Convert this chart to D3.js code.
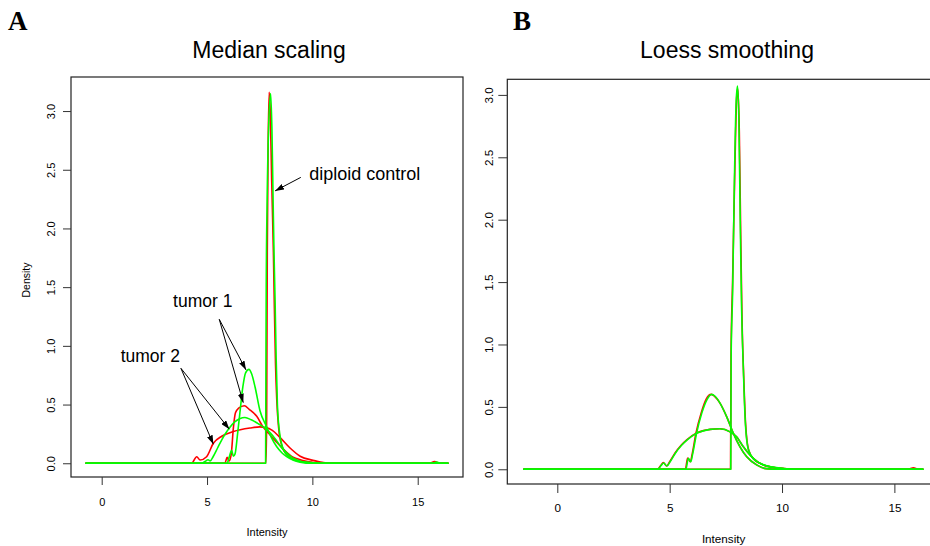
<!DOCTYPE html>
<html>
<head>
<meta charset="utf-8">
<script src="https://cdn.jsdelivr.net/npm/d3@7"></script>
<style>
  html, body { margin: 0; padding: 0; background: #fff; }
  svg { display: block; font-family: "Liberation Sans", Arial, sans-serif; }
</style>
</head>
<body>
<svg id="chart" width="930" height="546"></svg>
<script>
// ---- Density curves, [intensity, density] pairs ----

// A: median scaling
const medRedControl = [[-0.77,0],[7.8,0],[7.83,0.4],[7.86,1.8],[7.9,2.7],[7.95,3.16],[8.0,3.0],[8.07,2.4],[8.15,1.8],[8.19,1.39],[8.25,0.85],[8.31,0.54],[8.4,0.3],[8.55,0.15],[8.8,0.07],[9.2,0.025],[9.8,0.008],[10.6,0],[16.46,0]];
const medGreenControl = [[-0.77,0],[7.78,0],[7.795,0.8],[7.81,1.5],[7.85,2.2],[7.93,2.9],[8.02,3.15],[8.08,2.85],[8.14,2.2],[8.18,1.79],[8.23,1.39],[8.28,0.9],[8.34,0.5],[8.43,0.28],[8.6,0.13],[8.85,0.06],[9.3,0.02],[10.0,0.005],[10.8,0],[16.46,0]];
const medRedTumor1 = [[-0.77,0],[5.85,0],[5.95,0.05],[6.05,0.02],[6.15,0.08],[6.25,0.3],[6.35,0.43],[6.5,0.47],[6.77,0.49],[7.0,0.46],[7.36,0.4],[7.66,0.31],[8.0,0.24],[8.3,0.18],[8.62,0.12],[9.0,0.06],[9.25,0.04],[9.9,0.01],[10.5,0],[16.46,0]];
const medRedTumor2 = [[-0.77,0],[4.27,0],[4.51,0.056],[4.67,0.028],[4.98,0.056],[5.3,0.17],[5.7,0.23],[6.25,0.27],[7.04,0.3],[7.5,0.31],[7.8,0.305],[8.1,0.28],[8.46,0.22],[8.94,0.13],[9.42,0.06],[10.04,0.025],[10.83,0],[15.55,0],[15.8,0.014],[16.05,0],[16.46,0]];
const medGreenTumor1 = [[-0.77,0],[5.95,0],[6.05,0.05],[6.17,0.11],[6.25,0.06],[6.33,0.08],[6.45,0.25],[6.56,0.43],[6.7,0.65],[6.83,0.77],[6.99,0.8],[7.12,0.76],[7.28,0.65],[7.51,0.45],[7.83,0.31],[8.05,0.22],[8.31,0.14],[8.55,0.09],[8.78,0.056],[9.1,0.025],[9.41,0.01],[10.0,0],[16.46,0]];
const medGreenTumor2 = [[-0.77,0],[4.75,0],[4.9,0.015],[5.05,0.03],[5.15,0.02],[5.3,0.06],[5.5,0.13],[5.7,0.2],[5.9,0.26],[6.06,0.3],[6.3,0.35],[6.55,0.38],[6.8,0.39],[7.1,0.37],[7.4,0.34],[7.67,0.31],[8.0,0.26],[8.31,0.19],[8.55,0.13],[8.78,0.09],[9.0,0.055],[9.25,0.03],[9.6,0.01],[10.2,0],[15.7,0],[15.9,0.01],[16.1,0],[16.46,0]];

// B: loess smoothing
const loessRedControl = [[-1.51,0],[7.71,0],[7.73,0.9],[7.8,1.5],[7.9,2.4],[7.98,2.97],[8.03,3.05],[8.1,2.7],[8.16,1.9],[8.22,1.2],[8.3,0.72],[8.38,0.36],[8.52,0.15],[8.78,0.075],[9.05,0.045],[9.45,0.02],[10.0,0.008],[10.7,0],[16.29,0]];
const loessGreenControl = [[-1.51,0],[7.72,0],[7.735,0.9],[7.8,1.4],[7.88,2.3],[7.96,2.95],[8.02,3.07],[8.08,2.8],[8.14,2.0],[8.2,1.3],[8.28,0.8],[8.36,0.4],[8.5,0.16],[8.75,0.08],[9.0,0.05],[9.4,0.025],[9.9,0.01],[10.6,0],[16.29,0]];
const loessRedTumor1 = [[-1.51,0],[5.7,0],[5.8,0.09],[5.92,0.06],[6.0,0.12],[6.17,0.29],[6.4,0.45],[6.62,0.56],[6.85,0.6],[7.0,0.585],[7.24,0.53],[7.54,0.42],[7.83,0.29],[8.13,0.18],[8.43,0.1],[8.87,0.035],[9.3,0.005],[9.8,0],[16.29,0]];
const loessGreenTumor1 = [[-1.51,0],[5.72,0],[5.83,0.088],[5.94,0.06],[6.02,0.12],[6.2,0.29],[6.43,0.45],[6.65,0.555],[6.87,0.6],[7.02,0.585],[7.24,0.53],[7.54,0.42],[7.83,0.29],[8.13,0.18],[8.43,0.1],[8.87,0.035],[9.3,0.005],[9.8,0],[16.29,0]];
const loessRedTumor2 = [[-1.51,0],[4.45,0],[4.6,0.03],[4.72,0.053],[4.87,0.026],[5.0,0.06],[5.24,0.13],[5.5,0.19],[5.76,0.235],[6.2,0.29],[6.8,0.32],[7.24,0.325],[7.69,0.3],[7.98,0.26],[8.28,0.18],[8.72,0.088],[9.17,0.034],[9.9,0.008],[10.5,0],[15.6,0],[15.85,0.012],[16.05,0],[16.29,0]];
const loessGreenTumor2 = [[-1.51,0],[4.47,0],[4.62,0.03],[4.73,0.05],[4.88,0.026],[5.02,0.06],[5.26,0.13],[5.52,0.19],[5.78,0.235],[6.22,0.29],[6.8,0.32],[7.24,0.325],[7.69,0.3],[7.98,0.26],[8.28,0.18],[8.72,0.088],[9.17,0.034],[9.9,0.008],[10.5,0],[16.29,0]];

// ---- Axis ticks ----
const xTicks = [0, 5, 10, 15];
const yTicks = [0, 0.5, 1.0, 1.5, 2.0, 2.5, 3.0];
const xLabel = "Intensity";
const yLabel = "Density";

// ---- Annotations on panel A: text anchor, arrow tail and arrow tips (data units) ----
const annoControl = { text: "diploid control", x: 9.85, y: 2.41, from: [9.45, 2.435], tips: [[8.23, 2.32]] };
const annoTumor1  = { text: "tumor 1", x: 3.39, y: 1.334, from: [5.58, 1.226], tips: [[6.85, 0.795], [6.72, 0.516]] };
const annoTumor2  = { text: "tumor 2", x: 0.90, y: 0.865, from: [3.76, 0.809], tips: [[5.30, 0.162], [6.06, 0.29]] };

const RED = "#ff0000", GREEN = "#00ff00";

const svg = d3.select("#chart");
svg.append("rect").attr("width", 930).attr("height", 546).attr("fill", "#fff");

const defs = svg.append("defs");
defs.append("marker")
  .attr("id", "arrowhead")
  .attr("viewBox", "0 0 10 10")
  .attr("refX", 10).attr("refY", 5)
  .attr("markerUnits", "userSpaceOnUse")
  .attr("markerWidth", 9).attr("markerHeight", 6)
  .attr("preserveAspectRatio", "none")
  .attr("orient", "auto")
  .append("path").attr("d", "M0,0 L10,5 L0,10 Z").attr("fill", "#000");

const panels = [
  {
    id: "A", letterX: 8, title: "Median scaling",
    box: { l: 71, r: 463, t: 77, b: 477 },
    xlim: [-1.457, 17.15], ylim: [-0.117, 3.29],
    font: 11, tick: 8, xLabOff: 25, yLabOff: 20, xTitleOff: 59, yTitleX: 26,
    showYTitle: true, titleX: 269,
    series: [
      [medRedControl, RED], [medRedTumor1, RED], [medRedTumor2, RED],
      [medGreenControl, GREEN], [medGreenTumor1, GREEN], [medGreenTumor2, GREEN]
    ],
    notes: [annoControl, annoTumor1, annoTumor2]
  },
  {
    id: "B", letterX: 513, title: "Loess smoothing",
    box: { l: 507.3, r: 940, t: 79.3, b: 484 },
    xlim: [-2.225, 17.03], ylim: [-0.118, 3.125],
    font: 11.7, tick: 9, xLabOff: 24, yLabOff: 19, xTitleOff: 59, yTitleX: null,
    showYTitle: false, titleX: 727,
    series: [
      [loessRedControl, RED], [loessRedTumor1, RED], [loessRedTumor2, RED],
      [loessGreenControl, GREEN], [loessGreenTumor1, GREEN], [loessGreenTumor2, GREEN]
    ],
    notes: []
  }
];

panels.forEach(p => {
  const g = svg.append("g");
  const x = d3.scaleLinear().domain(p.xlim).range([p.box.l, p.box.r]);
  const y = d3.scaleLinear().domain(p.ylim).range([p.box.b, p.box.t]);

  // panel letter
  g.append("text")
    .attr("x", p.letterX).attr("y", 30)
    .attr("font-family", "'Liberation Serif', 'Times New Roman', serif")
    .attr("font-weight", "bold").attr("font-size", 27)
    .text(p.id);

  // main title
  g.append("text")
    .attr("x", p.titleX).attr("y", 58)
    .attr("text-anchor", "middle").attr("font-size", 23)
    .text(p.title);

  // density curves, clipped to the plot region
  const clipId = "clip" + p.id;
  defs.append("clipPath").attr("id", clipId)
    .append("rect")
    .attr("x", p.box.l).attr("y", p.box.t)
    .attr("width", p.box.r - p.box.l).attr("height", p.box.b - p.box.t);

  const line = d3.line()
    .x(d => x(d[0])).y(d => y(d[1]))
    .curve(d3.curveMonotoneX);

  const curves = g.append("g").attr("clip-path", `url(#${clipId})`);
  p.series.forEach(([data, color]) => {
    curves.append("path")
      .attr("d", line(data))
      .attr("fill", "none")
      .attr("stroke", color)
      .attr("stroke-width", 1.6)
      .attr("stroke-linejoin", "round");
  });

  // frame
  g.append("rect")
    .attr("x", p.box.l).attr("y", p.box.t)
    .attr("width", p.box.r - p.box.l).attr("height", p.box.b - p.box.t)
    .attr("fill", "none").attr("stroke", "#222").attr("stroke-width", 1.2);

  // x axis
  const xAxis = g.append("g")
    .attr("transform", `translate(0,${p.box.b})`)
    .call(d3.axisBottom(x).tickValues(xTicks).tickSize(p.tick).tickFormat(d3.format("d")));
  xAxis.select(".domain").remove();
  xAxis.selectAll(".tick line").attr("stroke", "#333");
  xAxis.selectAll(".tick text")
    .attr("y", p.xLabOff).attr("dy", "0.36em")
    .attr("fill", "#000").attr("font-size", p.font)
    .attr("font-family", "'Liberation Sans', Arial, sans-serif");

  // y axis with rotated labels
  const yAxis = g.append("g")
    .attr("transform", `translate(${p.box.l},0)`)
    .call(d3.axisLeft(y).tickValues(yTicks).tickSize(p.tick).tickFormat(d3.format(".1f")));
  yAxis.select(".domain").remove();
  yAxis.selectAll(".tick line").attr("stroke", "#333");
  yAxis.selectAll(".tick text")
    .attr("x", null).attr("dy", "0.36em")
    .attr("text-anchor", "middle")
    .attr("transform", `translate(${-p.yLabOff},0) rotate(-90)`)
    .attr("fill", "#000").attr("font-size", p.font)
    .attr("font-family", "'Liberation Sans', Arial, sans-serif");

  // axis titles
  g.append("text")
    .attr("x", (p.box.l + p.box.r) / 2).attr("y", p.box.b + p.xTitleOff)
    .attr("text-anchor", "middle").attr("font-size", p.font)
    .text(xLabel);
  if (p.showYTitle) {
    g.append("text")
      .attr("transform", `translate(${p.yTitleX},${(p.box.t + p.box.b) / 2 + 3}) rotate(-90)`)
      .attr("dy", "0.36em")
      .attr("text-anchor", "middle").attr("font-size", 10.5)
      .text(yLabel);
  }

  // annotations with arrows
  p.notes.forEach(n => {
    g.append("text")
      .attr("x", x(n.x)).attr("y", y(n.y))
      .attr("font-size", n.text.length > 8 ? 18 : 17.5)
      .text(n.text);
    n.tips.forEach(t => {
      g.append("line")
        .attr("x1", x(n.from[0])).attr("y1", y(n.from[1]))
        .attr("x2", x(t[0])).attr("y2", y(t[1]))
        .attr("stroke", "#000").attr("stroke-width", 1)
        .attr("marker-end", "url(#arrowhead)");
    });
  });
});
</script>
</body>
</html>
